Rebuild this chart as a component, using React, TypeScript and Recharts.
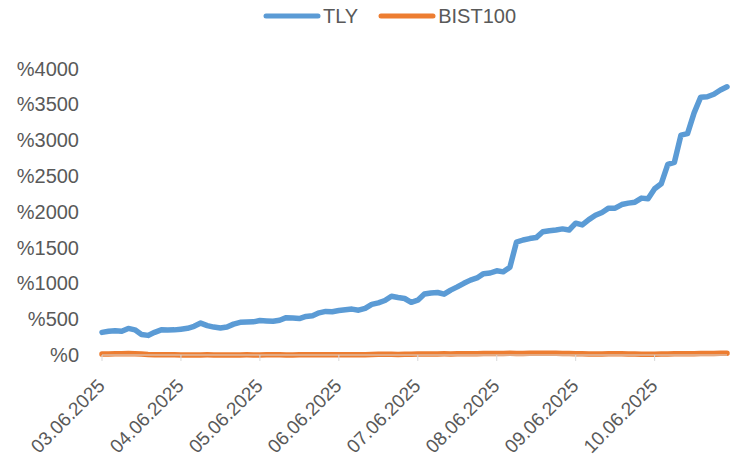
import React from 'react';
import { LineChart, Line, XAxis, YAxis, Legend } from 'recharts';

const days = ['03.06.2025', '04.06.2025', '05.06.2025', '06.06.2025', '07.06.2025', '08.06.2025', '09.06.2025', '10.06.2025'];
const hours = ['00:00', '02:00', '04:00', '06:00', '08:00', '10:00', '12:00', '14:00', '16:00', '18:00', '20:00', '22:00'];

const tly = [
  315, 330, 338, 330, 370, 350, 285, 273, 315, 350, 347, 350,
  360, 372, 400, 445, 410, 389, 376, 390, 430, 455, 459, 462,
  480, 474, 470, 485, 520, 515, 508, 538, 548, 588, 608, 604,
  620, 630, 640, 625, 650, 705, 728, 760, 820, 802, 788, 735,
  765, 850, 866, 872, 848, 905, 950, 1000, 1045, 1075, 1135, 1144,
  1175, 1160, 1225, 1575, 1605, 1625, 1639, 1720, 1735, 1745, 1760, 1745,
  1840, 1815, 1890, 1950, 1990, 2050, 2050, 2100, 2120, 2133, 2190, 2180,
  2320, 2390, 2660, 2690, 3070, 3090, 3380, 3600, 3605, 3640, 3700, 3745,
];

const bist = [
  12, 14, 16, 18, 20, 18, 12, 6, 3, 2, 2, 1,
  0, 0, -1, 0, 1, 0, 0, -1, 0, 0, 1, 0,
  0, 1, 2, 1, 0, 0, 1, 2, 3, 2, 1, 2,
  3, 4, 3, 2, 4, 6, 8, 9, 8, 7, 9, 10,
  12, 13, 12, 14, 15, 14, 16, 18, 17, 18, 20, 19,
  20, 21, 22, 20, 19, 22, 24, 25, 23, 22, 21, 20,
  18, 16, 14, 12, 14, 16, 18, 16, 14, 12, 10, 9,
  10, 12, 14, 15, 16, 17, 18, 19, 20, 21, 22, 22,
];

const yTicks = [0, 500, 1000, 1500, 2000, 2500, 3000, 3500, 4000];

const seriesNames = { tly: 'TLY', bist: 'BIST100' };
const colors = { tly: '#5B9BD5', bist: '#ED7D31' };

const labels: string[] = [];
days.forEach((d) => hours.forEach((h) => labels.push(d + ' ' + h)));

const data = labels.map((label, i) => ({ label, tly: tly[i], bist: bist[i] }));

const FONT = "'Liberation Sans', Arial, sans-serif";
const TEXT = '#595959';

const XTick = (props: any) => {
  const { x, y, payload } = props;
  const ax = x + 4;
  return (
    <text x={ax} y={y} transform={`rotate(-45, ${ax}, ${y})`} textAnchor="end" fontSize={19} fill={TEXT} fontFamily={FONT}>
      {String(payload.value).slice(0, 10)}
    </text>
  );
};

const LegendContent = () => (
  <div style={{ display: 'flex', alignItems: 'center', height: 32, fontFamily: FONT, fontSize: 20, color: TEXT, whiteSpace: 'nowrap' }}>
    <svg width={58} height={8} style={{ display: 'block' }}>
      <line x1={3} y1={4} x2={55} y2={4} stroke={colors.tly} strokeWidth={5} strokeLinecap="round" />
    </svg>
    <span style={{ marginLeft: 2 }}>{seriesNames.tly}</span>
    <svg width={58} height={8} style={{ display: 'block', marginLeft: 20 }}>
      <line x1={3} y1={4} x2={55} y2={4} stroke={colors.bist} strokeWidth={5} strokeLinecap="round" />
    </svg>
    <span style={{ marginLeft: 2 }}>{seriesNames.bist}</span>
  </div>
);

export default function App() {
  return (
    <div style={{ position: 'absolute', left: 0, top: 0, width: 741, height: 461, background: '#fff' }}>
      <LineChart width={741} height={461} data={data} margin={{ top: 36.5, right: 14, bottom: 0, left: 0 }} style={{ fontFamily: FONT }}>
        <Legend verticalAlign="top" content={<LegendContent />} wrapperStyle={{ top: 0, left: 263, width: 270, height: 32 }} />
        <XAxis
          dataKey="label"
          interval={11}
          height={106}
          tick={<XTick />}
          tickSize={6}
          tickMargin={26}
          tickLine={{ stroke: '#d9d9d9' }}
          axisLine={{ stroke: '#d9d9d9' }}
        />
        <YAxis
          width={102}
          domain={[0, 4000]}
          ticks={yTicks}
          tickFormatter={(v: number) => `%${v}`}
          tickSize={0}
          tickMargin={23}
          axisLine={false}
          tickLine={false}
          tick={{ fill: TEXT, fontSize: 20, fontFamily: FONT }}
        />
        <Line dataKey="tly" name={seriesNames.tly} stroke={colors.tly} strokeWidth={5.5} dot={false} isAnimationActive={false} strokeLinejoin="round" strokeLinecap="round" />
        <Line dataKey="bist" name={seriesNames.bist} stroke={colors.bist} strokeWidth={5.5} dot={false} isAnimationActive={false} strokeLinejoin="round" strokeLinecap="round" />
      </LineChart>
    </div>
  );
}
